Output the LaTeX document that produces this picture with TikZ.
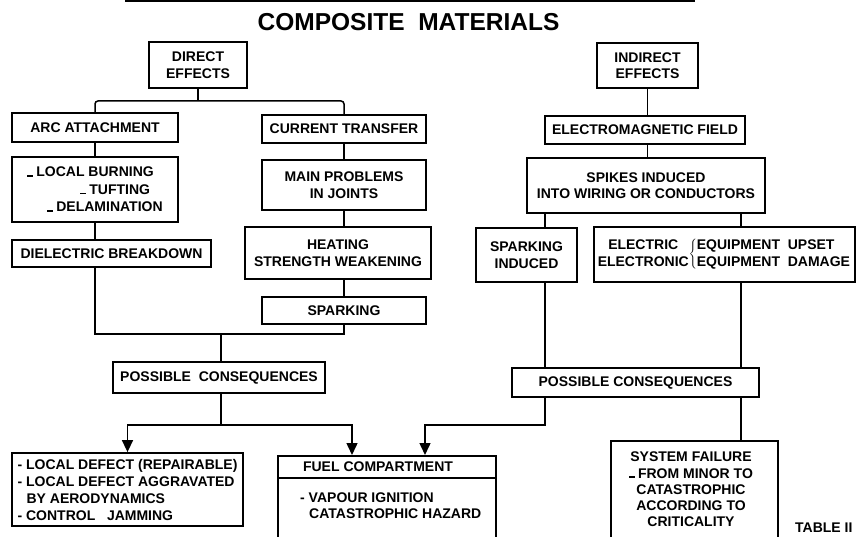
\documentclass[tikz,border=0pt]{standalone}
\usepackage{fontspec}
\setmainfont{Liberation Sans}
\usetikzlibrary{arrows.meta}
\newcommand\lowdash{\rule{6pt}{1.6pt}\hspace{3pt}}
\begin{document}
\begin{tikzpicture}[x=1pt,y=-1pt,
  every node/.style={font=\bfseries\fontsize{14}{16.5}\selectfont},
  box/.style={draw, line width=1.8pt, inner sep=0pt, align=center},
  conn/.style={line width=1.5pt},
  arr/.style={-{Triangle[width=11pt,length=12pt]}}]
\useasboundingbox (0,0) rectangle (856,537);
\clip (0,0) rectangle (856,537);
% title
\coordinate (tl1) at (125,1.5);
\coordinate (tl2) at (695,1.5);
\draw[line width=2pt] (tl1) -- (tl2);
\node[font=\bfseries\fontsize{24.5}{28}\selectfont] (title) at (408.5,22.5) {COMPOSITE\ \ MATERIALS};
% left column
\node[box, minimum width=98pt, minimum height=46pt] (direct) at (198,65) {DIRECT\\EFFECTS};
\node[box, minimum width=166pt, minimum height=29pt] (arc) at (95,127.5) {ARC ATTACHMENT};
\node[box, minimum width=164pt, minimum height=28pt] (current) at (344,129) {CURRENT TRANSFER};
\node[box, minimum width=166pt, minimum height=65pt, align=left, font=\bfseries\fontsize{14}{17.5}\selectfont] (burn) at (95,189.5)
  {\lowdash LOCAL BURNING\\\hspace*{53pt}\lowdash TUFTING\\\hspace*{20pt}\lowdash DELAMINATION};
\node[box, minimum width=199pt, minimum height=27pt] (dielec) at (111.5,253.5) {DIELECTRIC BREAKDOWN};
\node[box, minimum width=164pt, minimum height=50pt] (main) at (344,185) {MAIN PROBLEMS\\IN JOINTS};
\node[box, minimum width=186pt, minimum height=52pt] (heat) at (338,253) {HEATING\\STRENGTH WEAKENING};
\node[box, minimum width=164pt, minimum height=27pt] (sparking) at (344,310.5) {SPARKING};
\node[box, minimum width=212pt, minimum height=31pt] (pcl) at (219,377.5) {POSSIBLE\ \ CONSEQUENCES};
\node[box, minimum width=231pt, minimum height=73pt, align=left, font=\bfseries\fontsize{14}{17}\selectfont] (ld) at (127.5,489.5)
  {- LOCAL DEFECT (REPAIRABLE)\\- LOCAL DEFECT AGGRAVATED\\\hspace*{9pt}BY AERODYNAMICS\\- CONTROL\ \ \ JAMMING};
\node[box, minimum width=218pt, minimum height=100pt, anchor=north west] (fuel) at (277,455) {};
\node[inner sep=0pt] (fuelhead) at (378,467) {FUEL COMPARTMENT};
\draw[line width=1.5pt] ([yshift=-23pt]fuel.north west) -- ([yshift=-23pt]fuel.north east);
\node[inner sep=0pt, align=left, anchor=west] (fuelbody) at (300,505.5)
  {- VAPOUR IGNITION\\\hspace*{9pt}CATASTROPHIC HAZARD};
% right column
\node[box, minimum width=101pt, minimum height=45pt] (indirect) at (647.5,65.5) {INDIRECT\\EFFECTS};
\node[box, minimum width=200pt, minimum height=28pt] (em) at (645,130) {ELECTROMAGNETIC FIELD};
\node[box, minimum width=238pt, minimum height=55pt] (spikes) at (646,185.5) {SPIKES INDUCED\\INTO WIRING OR CONDUCTORS};
\node[box, minimum width=101pt, minimum height=54pt] (sparkind) at (526.5,255) {SPARKING\\INDUCED};
\node[box, minimum width=261pt, minimum height=55pt] (electric) at (724.5,254.5)
  {\begin{tabular}{@{}c@{}}ELECTRIC\\ELECTRONIC\end{tabular}$\left\{\begin{tabular}{@{}l@{}}EQUIPMENT\ \ UPSET\\EQUIPMENT\ \ DAMAGE\end{tabular}\right.$};
\node[box, minimum width=247pt, minimum height=29pt] (pcr) at (635.5,382.5) {POSSIBLE CONSEQUENCES};
\node[box, minimum width=167pt, minimum height=130pt, anchor=north west] (sysfail) at (610,440) {};
\node[inner sep=0pt, align=center, font=\bfseries\fontsize{14}{16.3}\selectfont] (systext) at (691,489.5)
  {SYSTEM FAILURE\\\lowdash FROM MINOR TO\\CATASTROPHIC\\ACCORDING TO\\CRITICALITY};
\node[inner sep=0pt, anchor=north west] (tab) at (795,523) {TABLE II};
% connectors left
\coordinate (dj) at (198,101);
\draw[conn] (direct.south) -- (dj);
\draw[conn, rounded corners=3pt] (arc.north) |- (dj) -| (current.north);
\draw[conn] (arc.south) -- (burn.north);
\draw[conn] (burn.south) -- (burn.south |- dielec.north);
\draw[conn] (current.south) -- (main.north);
\draw[conn] (main.south) -- (main.south |- heat.north);
\draw[conn] (main.south |- heat.south) -- (sparking.north);
\coordinate (lj) at (221,334);
\draw[conn] (burn.south |- dielec.south) |- (lj) -| (sparking.south);
\draw[conn] (lj) -- (lj |- pcl.north);
\coordinate (pj) at (221,425);
\coordinate (fa) at (352,425);
\draw[conn] (lj |- pcl.south) -- (pj);
\draw[conn, arr] (pj) -| (ld.north);
\draw[conn, arr] (pj) -| (fa |- fuel.north);
% connectors right
\draw[conn] (indirect.south) -- (indirect.south |- em.north);
\draw[conn] (indirect.south |- em.south) -- (indirect.south |- spikes.north);
\coordinate (c1) at (545,425);
\coordinate (c2) at (741,425);
\coordinate (fb) at (425,425);
\draw[conn] (spikes.south -| c1) -- (sparkind.north -| c1);
\draw[conn] (spikes.south -| c2) -- (electric.north -| c2);
\draw[conn] (sparkind.south -| c1) -- (pcr.north -| c1);
\draw[conn] (electric.south -| c2) -- (pcr.north -| c2);
\draw[conn, arr] (pcr.south -| c1) -- (c1) -- (fb) -- (fb |- fuel.north);
\draw[conn] (pcr.south -| c2) -- (sysfail.north -| c2);
\end{tikzpicture}
\end{document}
